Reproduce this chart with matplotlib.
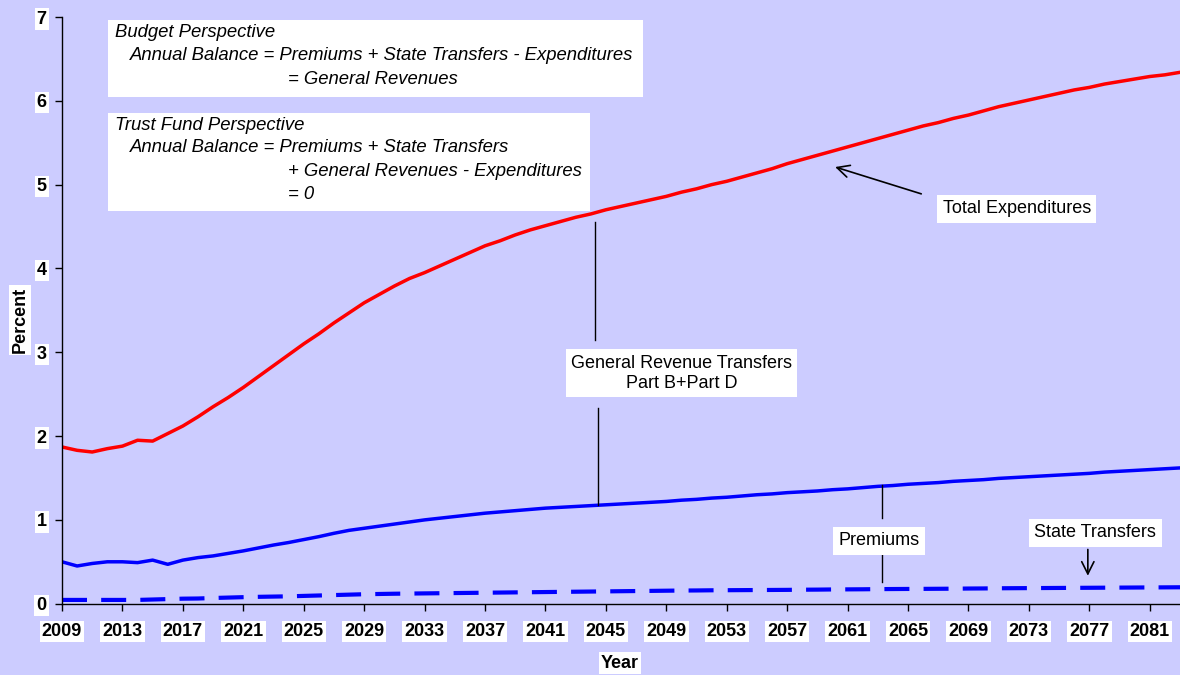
import matplotlib
matplotlib.use("Agg")
import matplotlib.pyplot as plt
from matplotlib.patches import Rectangle

plt.rcParams['font.family'] = ['Liberation Sans', 'DejaVu Sans']

BG = '#CCCCFF'

# chart data, percent of GDP
YEARS = list(range(2009, 2084))

TOTAL_EXP = [1.87, 1.83, 1.81, 1.85, 1.88, 1.95, 1.94, 2.03, 2.12, 2.23,
             2.35, 2.46, 2.58, 2.71, 2.84, 2.97, 3.10, 3.22, 3.35, 3.47,
             3.59, 3.69, 3.79, 3.88, 3.95, 4.03, 4.11, 4.19, 4.27, 4.33,
             4.40, 4.46, 4.51, 4.56, 4.61, 4.65, 4.70, 4.74, 4.78, 4.82,
             4.86, 4.91, 4.95, 5.00, 5.04, 5.09, 5.14, 5.19, 5.25, 5.30,
             5.35, 5.40, 5.45, 5.50, 5.55, 5.60, 5.65, 5.70, 5.74, 5.79,
             5.83, 5.88, 5.93, 5.97, 6.01, 6.05, 6.09, 6.13, 6.16, 6.20,
             6.23, 6.26, 6.29, 6.31, 6.34]

PREMIUMS_STATE = [0.50, 0.45, 0.48, 0.50, 0.50, 0.49, 0.52, 0.47, 0.52, 0.55,
                  0.57, 0.60, 0.63, 0.665, 0.70, 0.73, 0.765, 0.80, 0.84, 0.875,
                  0.90, 0.925, 0.95, 0.975, 1.00, 1.02, 1.04, 1.06, 1.08, 1.095,
                  1.11, 1.125, 1.14, 1.15, 1.16, 1.17, 1.18, 1.19, 1.20, 1.21,
                  1.22, 1.235, 1.245, 1.26, 1.27, 1.285, 1.30, 1.31, 1.325, 1.335,
                  1.345, 1.36, 1.37, 1.385, 1.40, 1.41, 1.425, 1.435, 1.445, 1.46,
                  1.47, 1.48, 1.495, 1.505, 1.515, 1.525, 1.535, 1.545, 1.555, 1.57,
                  1.58, 1.59, 1.60, 1.61, 1.62]

STATE_TRANSFERS = [0.045, 0.045, 0.045, 0.045, 0.045, 0.045, 0.05, 0.055, 0.06, 0.062,
                   0.068, 0.073, 0.078, 0.082, 0.085, 0.088, 0.093, 0.098, 0.103, 0.108,
                   0.113, 0.116, 0.119, 0.121, 0.123, 0.125, 0.127, 0.129, 0.131, 0.133,
                   0.135, 0.137, 0.139, 0.141, 0.143, 0.145, 0.147, 0.149, 0.151, 0.153,
                   0.155, 0.157, 0.158, 0.160, 0.161, 0.162, 0.163, 0.164, 0.165, 0.167,
                   0.168, 0.170, 0.171, 0.172, 0.174, 0.175, 0.176, 0.177, 0.178, 0.179,
                   0.181, 0.182, 0.184, 0.185, 0.186, 0.187, 0.188, 0.189, 0.190, 0.191,
                   0.192, 0.193, 0.194, 0.195, 0.196]

X_TICKS = list(range(2009, 2082, 4))
Y_TICKS = list(range(0, 8))

BOX1_LINES = ["Budget Perspective",
              "Annual Balance = Premiums + State Transfers - Expenditures",
              "= General Revenues"]
BOX2_LINES = ["Trust Fund Perspective",
              "Annual Balance = Premiums + State Transfers",
              "+ General Revenues - Expenditures",
              "= 0"]

WHITE = dict(facecolor='white', edgecolor='none', pad=1.5)


def note(ax, x, y, s):
    """plain label in a white box, centred on (x, y)"""
    ax.text(x, y, s, fontsize=13, ha='center', va='center',
            multialignment='center',
            bbox=dict(facecolor='white', edgecolor='none', boxstyle='square,pad=0.3'))


def plot_chart():
    fig = plt.figure(figsize=(11.8, 6.75), dpi=100, facecolor=BG)
    ax = fig.add_axes([62 / 1180, 1 - 603.7 / 675, 1 - 62 / 1180, (603.7 - 17) / 675])
    ax.set_facecolor(BG)

    # the three series
    ax.plot(YEARS, TOTAL_EXP, color='#FF0000', lw=2.5, solid_joinstyle='round')
    ax.plot(YEARS, PREMIUMS_STATE, color='#0000FF', lw=2.5, solid_joinstyle='round')
    ax.plot(YEARS, STATE_TRANSFERS, color='#0000FF', lw=3, linestyle=(0, (6, 3.4)))

    ax.set_xlim(2009, 2083)
    ax.set_ylim(0, 7)
    ax.set_xticks(X_TICKS)
    ax.set_yticks(Y_TICKS)
    ax.set_xticklabels([str(y) for y in X_TICKS])
    ax.set_yticklabels([str(v) for v in Y_TICKS])
    for side in ['top', 'right']:
        ax.spines[side].set_visible(False)
    for side in ['left', 'bottom']:
        ax.spines[side].set_color('black')
        ax.spines[side].set_linewidth(1)
    ax.tick_params(axis='x', direction='out', length=5, width=1, pad=9,
                   labelsize=13, colors='black')
    ax.tick_params(axis='y', direction='out', length=5, width=1, pad=6,
                   labelsize=13, colors='black')
    for lbl in ax.get_xticklabels() + ax.get_yticklabels():
        lbl.set_fontweight('bold')
        lbl.set_bbox(WHITE)

    # axis titles
    fig.text(20 / 1180, 1 - 320 / 675, 'Percent', rotation=90, fontsize=13,
             fontweight='bold', ha='center', va='center', bbox=WHITE)
    fig.text(620 / 1180, 1 - 663 / 675, 'Year', fontsize=13,
             fontweight='bold', ha='center', va='center', bbox=WHITE)

    # the two formula boxes (data coords)
    ax.add_patch(Rectangle((2012.04, 6.05), 35.4, 0.92, facecolor='white',
                           edgecolor='none', zorder=3))
    ax.add_patch(Rectangle((2012.04, 4.68), 31.9, 1.18, facecolor='white',
                           edgecolor='none', zorder=3))
    for (x, y), s in zip([(2012.5, 6.82), (2013.5, 6.54), (2023.96, 6.25)], BOX1_LINES):
        ax.text(x, y, s, fontsize=13.3, style='italic', va='center', zorder=4)
    for (x, y), s in zip([(2012.5, 5.70), (2013.5, 5.44), (2023.96, 5.16),
                          (2023.96, 4.88)], BOX2_LINES):
        ax.text(x, y, s, fontsize=13.3, style='italic', va='center', zorder=4)

    # labels and pointers
    note(ax, 2072.2, 4.71, 'Total Expenditures')
    ax.annotate('', xy=(2060.0, 5.22), xytext=(2066.05, 4.88),
                arrowprops=dict(arrowstyle='->', color='black', lw=1.2,
                                mutation_scale=22))

    note(ax, 2050.0, 2.75, 'General Revenue Transfers\nPart B+Part D')
    ax.plot([2044.3, 2044.3], [4.56, 3.15], color='black', lw=1)
    ax.plot([2044.5, 2044.5], [2.34, 1.18], color='black', lw=1)

    note(ax, 2063.1, 0.75, 'Premiums')
    ax.plot([2063.3, 2063.3], [1.42, 1.02], color='black', lw=1)
    ax.plot([2063.3, 2063.3], [0.59, 0.26], color='black', lw=1)

    note(ax, 2077.4, 0.845, 'State Transfers')
    ax.annotate('', xy=(2076.9, 0.30), xytext=(2076.9, 0.68),
                arrowprops=dict(arrowstyle='->', color='black', lw=1.2,
                                mutation_scale=22))

    fig.savefig('out.png', dpi=100, facecolor=BG)


if __name__ == '__main__':
    plot_chart()
